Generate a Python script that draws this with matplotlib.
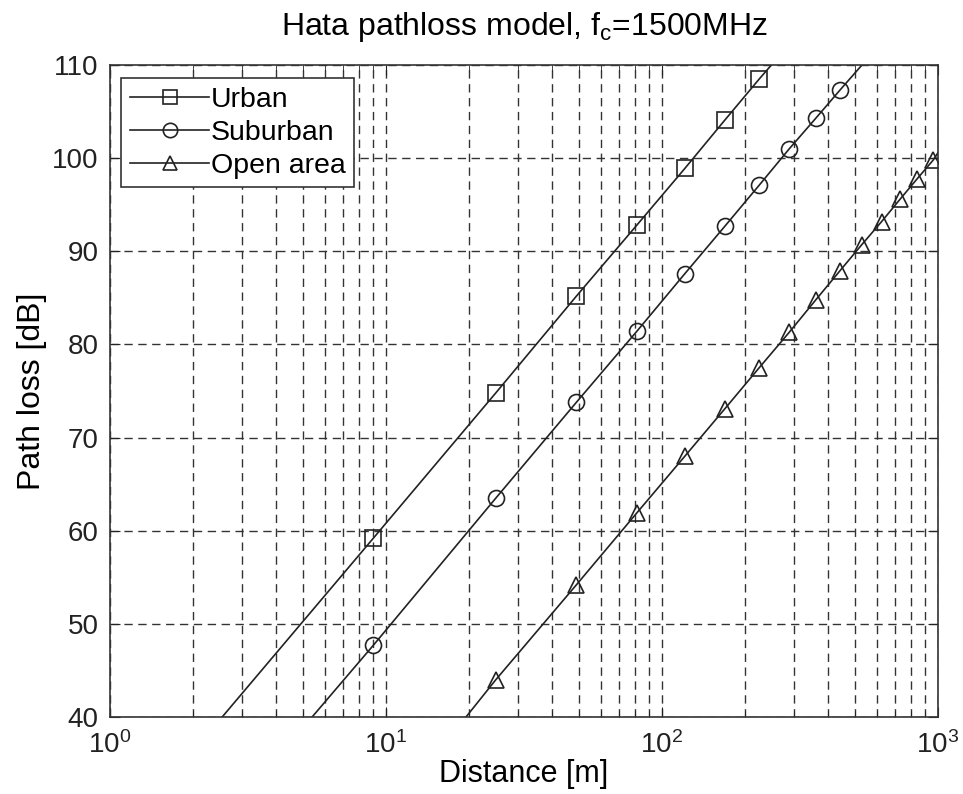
import matplotlib
matplotlib.use('Agg')
import matplotlib.pyplot as plt
from matplotlib.ticker import LogLocator, NullFormatter

plt.rcParams['font.family'] = ['Liberation Sans', 'DejaVu Sans']

# distances [m] where markers are drawn
urban_d = [9, 25, 49, 81, 121, 169, 225]
suburban_d = [9, 25, 49, 81, 121, 169, 225, 289, 361, 441]
open_d = [25, 49, 81, 121, 169, 225, 289, 361, 441, 529, 625, 729, 841, 961]

# path loss [dB]
urban_pl = [59.2, 74.8, 85.2, 92.8, 98.9, 104.1, 108.5]
suburban_pl = [47.7, 63.5, 73.8, 81.4, 87.6, 92.7, 97.1, 101.0, 104.3, 107.3]
open_pl = [44.0, 54.2, 61.9, 68.0, 73.1, 77.5, 81.3, 84.8, 87.9, 90.7, 93.2, 95.6, 97.8, 99.8]

# where each line enters / leaves the axes (distance, dB)
urban_ends = [(2.55, 40.0), (249, 110.0)]
suburban_ends = [(5.4, 40.0), (530, 110.0)]
open_ends = [(19.5, 40.0), (1000, 100.6)]

fig = plt.figure(figsize=(9.63, 7.94), dpi=100)
ax = fig.add_axes([0.1142, 0.097, 0.8598, 0.821])

col = '#222222'
series = [
    ('Urban', urban_d, urban_pl, urban_ends, 's'),
    ('Suburban', suburban_d, suburban_pl, suburban_ends, 'o'),
    ('Open area', open_d, open_pl, open_ends, '^'),
]
for name, d, pl, ends, mk in series:
    xs = [ends[0][0]] + d + [ends[1][0]]
    ys = [ends[0][1]] + pl + [ends[1][1]]
    ax.plot(xs, ys, color=col, lw=1.2, marker=mk, markersize=11.5,
            markerfacecolor='none', markeredgecolor=col, markeredgewidth=1.2,
            markevery=slice(1, -1), label=name)

ax.set_xscale('log')
ax.set_xlim(1, 1000)
ax.set_ylim(40, 110)
ax.set_yticks(range(40, 111, 10))
ax.xaxis.set_minor_locator(LogLocator(base=10, subs=range(2, 10)))
ax.xaxis.set_minor_formatter(NullFormatter())

ax.grid(True, which='major', ls=(0, (6, 4)), color='#333333', lw=1.0)
ax.grid(True, which='minor', axis='x', ls=(0, (6, 4)), color='#333333', lw=1.0)

ax.tick_params(which='both', direction='in', top=True, right=True, labelsize=20, colors='#222222')
ax.tick_params(which='major', length=7)
ax.tick_params(which='minor', length=4)
ax.tick_params(axis='x', pad=10)
ax.tick_params(axis='y', pad=8)
for sp in ax.spines.values():
    sp.set_color('#333333')
    sp.set_linewidth(1.2)

ax.set_xlabel('Distance [m]', fontsize=22, labelpad=0)
ax.set_ylabel('Path loss [dB]', fontsize=23, labelpad=4)
ax.set_title('Hata pathloss model, f$_\\mathregular{c}$=1500MHz', fontsize=23, pad=22)

leg = ax.legend(loc='upper left', bbox_to_anchor=(0.0135, 0.98), fontsize=20.5,
                numpoints=1, handlelength=2.8, handletextpad=0.05, markerscale=0.9,
                borderpad=0.3, labelspacing=0.25, fancybox=False, framealpha=1,
                borderaxespad=0)
leg.get_frame().set_edgecolor('#333333')
leg.get_frame().set_linewidth(1.2)

fig.savefig('out.png', dpi=100)
